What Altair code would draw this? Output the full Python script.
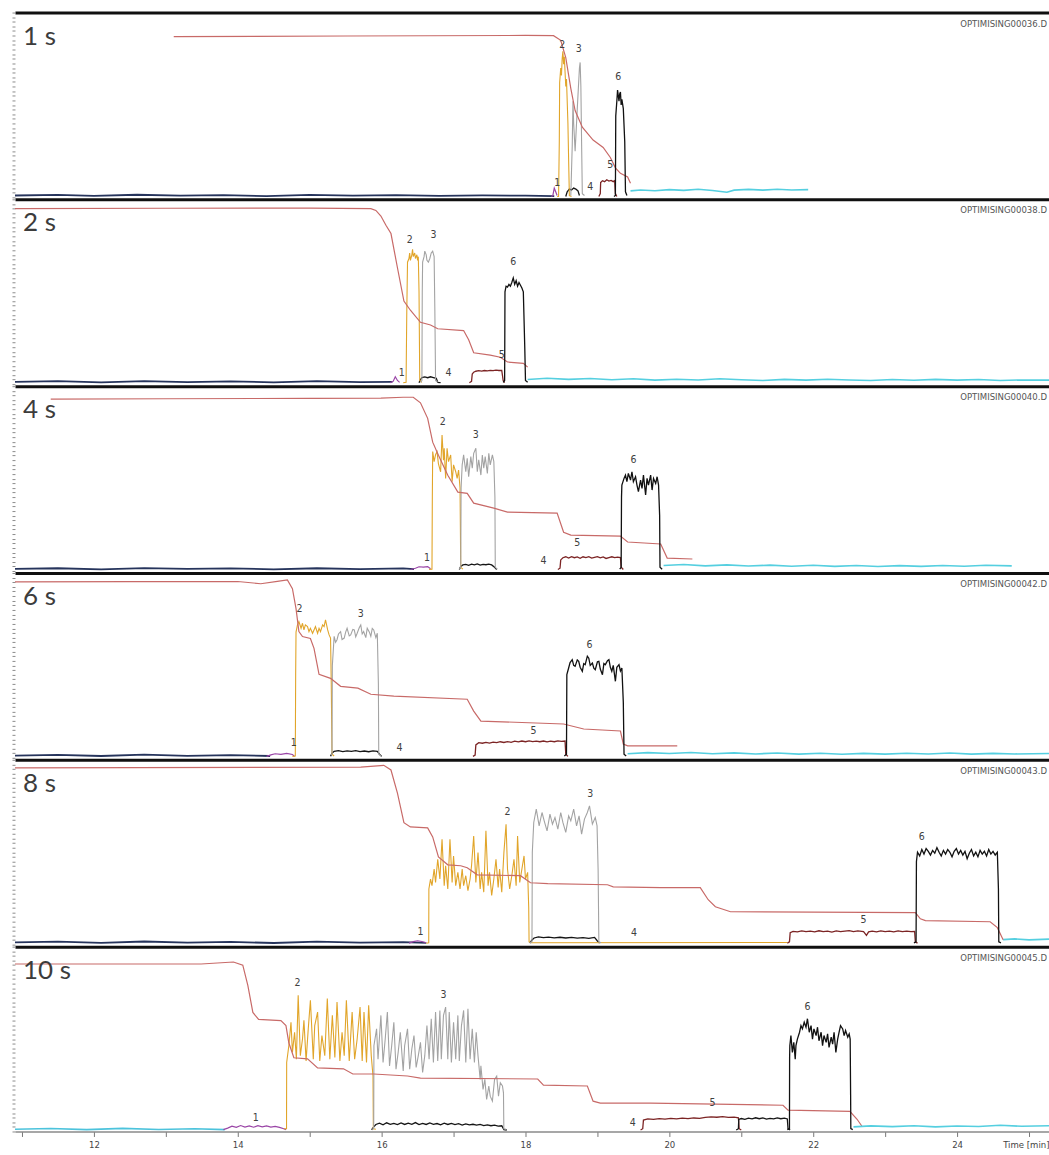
import altair as alt
import pandas as pd

# ---------------- layout constants ----------------
T_MIN, T_MAX = 10.903, 25.278
W, H = 1035, 185

PANEL_TAGS = ["1 s", "2 s", "4 s", "6 s", "8 s", "10 s"]
FILE_TAGS = ["OPTIMISING00036.D", "OPTIMISING00038.D", "OPTIMISING00040.D",
             "OPTIMISING00042.D", "OPTIMISING00043.D", "OPTIMISING00045.D"]
PEAK_NAMES = ["1", "2", "3", "4", "5", "6"]
X_TICKS = [11, 12, 13, 14, 15, 16, 17, 18, 19, 20, 21, 22, 23, 24, 25]
Y_TICKS = [i * 2.5 for i in range(41)]

# ---------------- panel 1 (1 s) ----------------
P1_BASE = [(10.903, 1.0), (11.5, 1.3), (12.0, 0.8), (12.6, 1.4), (13.2, 0.9), (13.8, 1.2), (14.4, 0.7),
           (15.0, 1.3), (15.6, 0.9), (16.2, 1.2), (16.8, 0.8), (17.4, 1.1), (18.0, 0.9), (18.4, 0.7)]
P1_RED = [(13.11, 87.0), (15.5, 87.3), (18.0, 87.6), (18.39, 87.5), (18.49, 85.0), (18.56, 75.6), (18.63, 59.0),
          (18.69, 47.0), (18.79, 38.0), (18.94, 31.0), (19.08, 27.0), (19.18, 21.6), (19.25, 16.0), (19.32, 13.0),
          (19.42, 11.0), (19.46, 7.6)]
P1_PURPLE = [(18.36, 0.5), (18.38, 1.0), (18.40, 5.0), (18.42, 3.0), (18.44, 1.0)]
P1_ORANGE = [(18.44, 0.5), (18.46, 0.5), (18.47, 30.0), (18.475, 62.0), (18.49, 70.0), (18.50, 66.0), (18.51, 75.0),
             (18.52, 79.0), (18.53, 72.0), (18.54, 76.0), (18.55, 68.0), (18.56, 60.0), (18.57, 64.0), (18.58, 52.0),
             (18.59, 40.0), (18.60, 20.0), (18.61, 1.0), (18.64, 0.5)]
P1_GRAY = [(18.63, 1.0), (18.65, 28.0), (18.66, 52.0), (18.67, 40.0), (18.69, 25.0), (18.72, 48.0), (18.75, 70.0),
           (18.76, 73.0), (18.77, 60.0), (18.78, 30.0), (18.79, 2.0), (18.82, 1.0)]
P1_BLACKLOW = [(18.56, 0.5), (18.58, 3.0), (18.61, 4.5), (18.64, 4.0), (18.67, 5.0), (18.70, 4.5), (18.73, 3.5),
               (18.75, 1.0)]
P1_DARKRED = [(19.02, 0.5), (19.04, 2.0), (19.045, 8.0), (19.07, 9.0), (19.10, 8.5), (19.13, 9.5), (19.16, 8.8),
              (19.19, 9.2), (19.22, 8.5), (19.24, 9.0), (19.25, 2.0), (19.27, 0.5)]
P1_BLACK6 = [(19.23, 0.5), (19.25, 1.0), (19.255, 44.0), (19.27, 52.0), (19.28, 58.0), (19.29, 55.0), (19.30, 52.0),
             (19.31, 56.0), (19.32, 57.0), (19.33, 50.0), (19.34, 53.0), (19.36, 48.0), (19.38, 30.0), (19.39, 3.0),
             (19.41, 1.0)]
P1_CYAN = [(19.46, 3.5), (19.6, 4.0), (19.8, 3.6), (20.0, 4.2), (20.2, 3.8), (20.4, 4.4), (20.6, 3.7), (20.8, 2.8),
           (20.9, 3.9), (21.1, 4.3), (21.3, 3.9), (21.5, 4.4), (21.7, 4.0), (21.93, 4.2)]
P1_LABELS = [(18.44, 7.6), (18.51, 82.5), (18.74, 80.0), (18.90, 5.4), (19.18, 17.4), (19.29, 65.0)]

# ---------------- panel 2 (2 s) ----------------
P2_BASE = [(10.903, 1.3), (11.5, 1.6), (12.1, 1.0), (12.7, 1.7), (13.3, 1.1), (13.9, 1.5), (14.5, 1.0),
           (15.1, 1.6), (15.7, 1.1), (16.15, 1.3)]
P2_RED = [(10.903, 95.0), (13.0, 95.2), (15.0, 95.3), (15.85, 95.0), (15.92, 94.0), (15.99, 91.0), (16.06, 86.0),
          (16.13, 81.5), (16.22, 63.0), (16.31, 45.0), (16.40, 40.0), (16.54, 33.5), (16.68, 32.0), (16.78, 30.0),
          (17.14, 29.0), (17.21, 24.0), (17.28, 17.0), (17.51, 15.7), (17.65, 14.6), (17.75, 12.0), (17.97, 11.3),
          (18.03, 9.2)]
P2_PURPLE = [(16.12, 0.8), (16.16, 1.5), (16.19, 4.0), (16.22, 2.0), (16.25, 1.0)]
P2_ORANGE = [(16.30, 0.8), (16.34, 1.0), (16.35, 40.0), (16.36, 66.0), (16.38, 68.0), (16.39, 71.0), (16.40, 67.0),
             (16.42, 70.0), (16.43, 73.0), (16.44, 69.0), (16.46, 71.0), (16.47, 68.0), (16.49, 70.0), (16.50, 67.0),
             (16.51, 69.0), (16.52, 50.0), (16.53, 2.0), (16.56, 1.0)]
P2_GRAY = [(16.54, 1.0), (16.56, 2.0), (16.565, 50.0), (16.57, 66.0), (16.59, 69.0), (16.60, 72.0), (16.62, 70.0),
           (16.63, 67.0), (16.65, 66.0), (16.67, 68.0), (16.69, 71.0), (16.71, 72.0), (16.73, 69.0), (16.74, 40.0),
           (16.75, 2.0), (16.78, 1.0)]
P2_BLACKLOW = [(16.52, 0.8), (16.54, 2.5), (16.56, 3.6), (16.60, 3.9), (16.64, 3.5), (16.68, 4.0), (16.72, 3.6),
               (16.76, 3.2), (16.78, 1.0), (16.82, 0.8)]
P2_DARKRED = [(17.22, 0.8), (17.25, 1.5), (17.26, 5.5), (17.28, 6.5), (17.31, 7.0), (17.35, 7.3), (17.39, 7.1),
              (17.43, 7.4), (17.47, 7.2), (17.51, 7.5), (17.55, 7.3), (17.59, 7.6), (17.63, 7.4), (17.67, 7.5),
              (17.69, 2.0), (17.71, 0.8)]
P2_BLACK6 = [(17.69, 1.0), (17.71, 2.0), (17.715, 50.0), (17.73, 53.0), (17.75, 52.5), (17.77, 54.0), (17.79, 53.0),
             (17.81, 55.0), (17.83, 57.5), (17.85, 54.0), (17.87, 56.0), (17.89, 53.0), (17.91, 55.0), (17.93, 53.5),
             (17.95, 52.0), (17.97, 50.0), (17.99, 20.0), (18.00, 2.0), (18.03, 1.0)]
P2_CYAN = [(18.03, 2.5), (18.3, 3.2), (18.6, 2.6), (18.9, 3.1), (19.2, 2.4), (19.5, 2.9), (19.8, 2.2), (20.1, 2.7),
           (20.4, 2.3), (20.7, 2.9), (21.0, 2.4), (21.3, 2.0), (21.6, 2.6), (21.9, 2.2), (22.2, 2.7), (22.5, 2.3),
           (22.8, 2.0), (23.1, 2.5), (23.4, 2.1), (23.7, 2.6), (24.0, 2.2), (24.3, 2.5), (24.6, 2.0), (24.9, 2.3),
           (25.278, 2.2)]
P2_LABELS = [(16.28, 6.0), (16.39, 78.0), (16.72, 80.6), (16.93, 6.0), (17.67, 15.7), (17.83, 66.0)]

# ---------------- panel 3 (4 s) ----------------
P3_BASE = [(10.903, 1.2), (11.5, 1.5), (12.1, 0.9), (12.7, 1.6), (13.3, 1.1), (13.9, 1.4), (14.5, 0.9),
           (15.1, 1.5), (15.7, 1.0), (16.3, 1.4), (16.45, 1.0)]
P3_RED = [(11.40, 93.0), (13.0, 93.2), (15.0, 93.4), (15.99, 93.5), (16.30, 94.0), (16.44, 94.0), (16.54, 91.0),
          (16.64, 82.6), (16.71, 69.7), (16.79, 62.6), (16.92, 51.8), (17.06, 42.7), (17.19, 42.0), (17.28, 36.7),
          (17.56, 34.0), (17.75, 31.9), (18.44, 31.3), (18.53, 21.0), (18.63, 19.4), (19.32, 18.9), (19.42, 15.7),
          (19.88, 14.6), (19.97, 7.0), (20.32, 6.5)]
P3_PURPLE = [(16.40, 0.8), (16.47, 1.5), (16.52, 2.3), (16.58, 2.1), (16.64, 2.4), (16.68, 1.2)]
P3_ORANGE = [(16.66, 0.8), (16.70, 1.0), (16.705, 40.0), (16.71, 64.6), (16.73, 59.2), (16.75, 63.0), (16.77, 64.6),
             (16.79, 58.0), (16.82, 53.7), (16.84, 73.6), (16.86, 60.0), (16.87, 66.4), (16.89, 50.1), (16.91, 66.4),
             (16.93, 59.2), (16.96, 62.8), (16.98, 48.3), (17.00, 57.4), (17.03, 53.7), (17.05, 50.1), (17.07, 54.6),
             (17.09, 45.0), (17.10, 2.0), (17.13, 1.0)]
P3_GRAY = [(17.08, 1.0), (17.10, 2.0), (17.105, 45.0), (17.12, 57.4), (17.14, 62.8), (17.17, 53.7), (17.19, 61.0),
           (17.21, 51.0), (17.24, 61.9), (17.26, 55.6), (17.28, 63.7), (17.31, 66.4), (17.33, 53.7), (17.35, 60.1),
           (17.38, 51.9), (17.40, 62.8), (17.42, 55.6), (17.44, 61.9), (17.47, 52.8), (17.49, 63.7), (17.51, 57.4),
           (17.54, 62.8), (17.56, 59.2), (17.575, 40.0), (17.58, 2.0), (17.61, 1.0)]
P3_BLACKLOW = [(17.08, 0.8), (17.10, 2.5), (17.13, 3.3), (17.17, 3.6), (17.21, 3.1), (17.25, 3.7), (17.29, 3.3),
               (17.33, 3.8), (17.37, 3.2), (17.41, 3.6), (17.45, 3.4), (17.49, 3.7), (17.53, 3.3), (17.57, 2.0),
               (17.60, 0.8)]
P3_DARKRED = [(18.45, 0.8), (18.48, 1.5), (18.49, 6.0), (18.52, 7.2), (18.56, 7.7), (18.60, 7.0), (18.64, 7.8),
              (18.68, 7.2), (18.72, 7.6), (18.76, 6.9), (18.80, 7.7), (18.84, 7.3), (18.88, 7.8), (18.92, 7.0),
              (18.96, 7.4), (19.00, 7.8), (19.04, 7.1), (19.08, 7.6), (19.12, 6.8), (19.16, 7.3), (19.20, 7.7),
              (19.24, 7.2), (19.28, 7.5), (19.32, 7.3), (19.33, 2.0), (19.36, 0.8)]
P3_BLACK6 = [(19.31, 1.0), (19.33, 2.0), (19.335, 40.0), (19.34, 46.5), (19.37, 50.1), (19.39, 51.9), (19.41, 48.3),
             (19.43, 52.8), (19.46, 49.2), (19.48, 53.7), (19.50, 48.3), (19.53, 51.0), (19.55, 46.5), (19.57, 42.9),
             (19.60, 49.2), (19.62, 44.7), (19.64, 51.9), (19.67, 41.1), (19.69, 50.1), (19.71, 46.5), (19.74, 51.9),
             (19.76, 43.8), (19.78, 50.1), (19.81, 47.4), (19.83, 51.0), (19.85, 46.5), (19.865, 30.0), (19.87, 2.0),
             (19.90, 1.0)]
P3_CYAN = [(19.92, 3.0), (20.2, 3.5), (20.5, 2.8), (20.8, 3.3), (21.1, 2.7), (21.4, 3.2), (21.7, 2.6), (22.0, 3.1),
           (22.3, 2.5), (22.6, 3.0), (22.9, 2.4), (23.2, 2.9), (23.5, 2.5), (23.8, 3.0), (24.1, 2.6), (24.4, 3.1),
           (24.76, 2.8)]
P3_LABELS = [(16.63, 7.0), (16.85, 80.6), (17.31, 73.6), (18.25, 5.4), (18.72, 15.1), (19.50, 60.0)]

# ---------------- panel 4 (6 s) ----------------
P4_BASE = [(10.903, 1.2), (11.5, 1.6), (12.1, 1.0), (12.7, 1.7), (13.3, 1.1), (13.9, 1.5), (14.45, 1.0)]
P4_RED = [(10.903, 95.2), (12.5, 95.3), (14.0, 95.4), (14.32, 94.2), (14.55, 95.5), (14.69, 96.3), (14.76, 91.5),
          (14.81, 80.7), (14.85, 68.3), (14.90, 65.6), (15.01, 64.6), (15.06, 59.2), (15.13, 45.2), (15.29, 43.0),
          (15.43, 38.7), (15.67, 37.7), (15.85, 34.4), (16.17, 33.4), (17.19, 31.7), (17.28, 25.3), (17.38, 19.9),
          (18.53, 18.3), (18.81, 15.6), (19.32, 14.5), (19.36, 7.5), (19.42, 6.5), (20.11, 6.5)]
P4_PURPLE = [(14.40, 0.8), (14.46, 1.6), (14.52, 2.2), (14.60, 1.9), (14.68, 2.4), (14.76, 1.8), (14.79, 0.8)]
P4_ORANGE = [(14.76, 0.8), (14.80, 1.0), (14.805, 45.0), (14.81, 68.0), (14.83, 71.9), (14.85, 73.7), (14.88, 70.1),
             (14.90, 72.8), (14.92, 69.2), (14.94, 71.9), (14.97, 71.0), (14.99, 68.3), (15.01, 70.1), (15.04, 67.4),
             (15.06, 69.2), (15.08, 71.0), (15.11, 67.4), (15.13, 70.1), (15.15, 68.3), (15.18, 71.9), (15.20, 71.0),
             (15.22, 74.6), (15.25, 69.2), (15.27, 66.5), (15.29, 64.8), (15.30, 40.0), (15.31, 2.0), (15.34, 1.0)]
P4_GRAY = [(15.30, 1.5), (15.31, 2.0), (15.315, 50.0), (15.34, 65.7), (15.36, 62.5), (15.38, 63.9), (15.40, 67.0),
           (15.43, 68.3), (15.45, 64.0), (15.48, 64.8), (15.50, 68.0), (15.52, 70.1), (15.55, 66.0), (15.57, 66.5),
           (15.60, 69.5), (15.62, 69.2), (15.64, 65.5), (15.66, 67.4), (15.69, 70.5), (15.71, 71.9), (15.73, 67.0),
           (15.75, 68.3), (15.78, 65.0), (15.80, 70.1), (15.83, 68.0), (15.85, 65.7), (15.87, 70.0), (15.89, 69.2),
           (15.92, 65.0), (15.94, 67.4), (15.955, 40.0), (15.96, 2.0), (15.99, 1.0)]
P4_BLACKLOW = [(15.29, 0.8), (15.31, 2.5), (15.34, 3.5), (15.40, 3.9), (15.46, 3.4), (15.52, 3.8), (15.58, 3.5),
               (15.64, 3.9), (15.70, 3.4), (15.76, 3.7), (15.82, 3.3), (15.88, 3.8), (15.94, 3.5), (15.97, 2.0),
               (16.00, 0.8)]
P4_DARKRED = [(17.27, 0.8), (17.30, 1.5), (17.31, 7.0), (17.35, 8.2), (17.40, 7.9), (17.45, 8.4), (17.50, 8.0),
              (17.55, 8.5), (17.60, 8.2), (17.65, 8.7), (17.70, 8.3), (17.75, 8.8), (17.80, 8.4), (17.85, 9.0),
              (17.90, 8.6), (17.95, 9.1), (18.00, 8.7), (18.05, 9.2), (18.10, 8.8), (18.15, 9.0), (18.20, 8.7),
              (18.25, 9.1), (18.30, 8.6), (18.35, 9.0), (18.40, 8.7), (18.45, 9.2), (18.50, 8.9), (18.55, 9.1),
              (18.56, 2.0), (18.59, 0.8)]
P4_BLACK6 = [(18.54, 1.0), (18.57, 2.0), (18.575, 45.0), (18.60, 48.6), (18.62, 51.5), (18.65, 53.1), (18.67, 50.0),
             (18.69, 49.5), (18.72, 53.0), (18.74, 52.2), (18.76, 49.0), (18.79, 46.8), (18.81, 51.0), (18.83, 50.4),
             (18.86, 55.0), (18.88, 53.9), (18.90, 50.0), (18.93, 51.3), (18.95, 48.5), (18.97, 47.7), (19.00, 52.0),
             (19.02, 52.2), (19.04, 48.0), (19.07, 45.0), (19.09, 51.0), (19.11, 50.4), (19.14, 52.5), (19.16, 53.1),
             (19.18, 49.0), (19.20, 46.8), (19.22, 50.0), (19.25, 41.4), (19.27, 49.0), (19.30, 50.4), (19.32, 47.0),
             (19.34, 48.6), (19.36, 30.0), (19.37, 2.0), (19.40, 1.0)]
P4_CYAN = [(19.42, 2.2), (19.7, 2.8), (20.0, 2.3), (20.3, 2.9), (20.6, 2.2), (20.9, 2.7), (21.2, 2.1), (21.5, 2.6),
           (21.8, 2.0), (22.1, 2.5), (22.4, 1.9), (22.7, 2.4), (23.0, 2.0), (23.3, 2.5), (23.6, 2.1), (23.9, 2.6),
           (24.2, 2.0), (24.5, 2.4), (24.8, 2.1), (25.278, 2.3)]
P4_LABELS = [(14.78, 8.0), (14.86, 80.7), (15.71, 78.0), (16.25, 5.4), (18.11, 14.5), (18.89, 61.3)]

# ---------------- panel 5 (8 s) ----------------
P5_BASE = [(10.903, 1.2), (11.5, 1.6), (12.1, 1.0), (12.7, 1.7), (13.3, 1.1), (13.9, 1.5), (14.5, 0.9),
           (15.1, 1.6), (15.7, 1.1), (16.3, 1.4), (16.62, 1.0)]
P5_RED = [(10.903, 95.6), (15.71, 96.0), (16.03, 97.0), (16.13, 94.5), (16.22, 82.0), (16.31, 66.0), (16.40, 63.7),
          (16.64, 63.2), (16.71, 58.3), (16.79, 47.5), (16.92, 43.2), (17.10, 42.7), (17.19, 41.6), (17.33, 37.8),
          (17.93, 37.3), (18.07, 33.5), (18.31, 33.0), (19.14, 32.4), (19.22, 31.3), (19.88, 30.8), (20.43, 30.8),
          (20.54, 24.3), (20.64, 20.5), (20.85, 17.8), (23.42, 17.3), (23.49, 14.0), (23.56, 13.0), (24.46, 12.4),
          (24.56, 9.2), (24.64, 2.7)]
P5_PURPLE = [(16.38, 0.8), (16.44, 1.6), (16.50, 2.1), (16.56, 1.7), (16.62, 1.0)]
P5_ORANGE = [(16.62, 0.8), (16.655, 1.0), (16.657, 30.1), (16.68, 35.5), (16.70, 31.9), (16.73, 40.9), (16.75, 33.7),
             (16.78, 46.2), (16.81, 35.5), (16.84, 57.0), (16.87, 31.9), (16.89, 42.7), (16.92, 30.1), (16.95, 57.0),
             (16.98, 33.7), (17.00, 48.0), (17.03, 31.9), (17.06, 39.1), (17.09, 30.1), (17.12, 40.9), (17.14, 31.9),
             (17.17, 37.3), (17.20, 29.2), (17.23, 35.5), (17.25, 42.7), (17.28, 58.8), (17.31, 33.7), (17.34, 49.8),
             (17.37, 30.1), (17.39, 39.1), (17.42, 28.4), (17.45, 61.6), (17.48, 31.9), (17.50, 39.1), (17.53, 26.6),
             (17.56, 35.5), (17.59, 46.2), (17.62, 31.0), (17.64, 40.9), (17.67, 28.4), (17.70, 49.8), (17.73, 65.1),
             (17.75, 40.9), (17.78, 30.1), (17.81, 37.3), (17.84, 46.2), (17.87, 31.9), (17.89, 58.8), (17.92, 33.7),
             (17.95, 40.9), (17.98, 48.0), (18.00, 35.5), (18.03, 39.1), (18.045, 20.0), (18.05, 1.5), (18.08, 1.0),
             (21.64, 1.2)]
P5_GRAY = [(18.06, 1.0), (18.09, 1.5), (18.095, 50.0), (18.115, 66.1), (18.15, 73.3), (18.19, 64.3), (18.23, 71.5),
           (18.26, 67.0), (18.30, 61.6), (18.34, 70.6), (18.375, 65.2), (18.41, 68.8), (18.45, 62.5), (18.49, 71.5),
           (18.52, 66.1), (18.56, 60.7), (18.60, 69.7), (18.63, 67.0), (18.67, 73.3), (18.71, 64.3), (18.745, 69.7),
           (18.78, 59.8), (18.82, 67.9), (18.86, 71.5), (18.89, 75.1), (18.93, 65.2), (18.97, 68.8), (18.995, 64.3),
           (19.01, 40.0), (19.02, 1.5), (19.05, 1.0)]
P5_BLACKLOW = [(18.06, 0.8), (18.09, 2.5), (18.12, 3.6), (18.18, 4.2), (18.25, 3.8), (18.32, 4.1), (18.40, 3.7),
               (18.48, 4.0), (18.56, 3.6), (18.64, 3.9), (18.72, 3.5), (18.80, 3.8), (18.88, 3.4), (18.96, 3.9),
               (19.00, 2.0), (19.03, 0.8)]
P5_DARKRED = [(21.64, 0.8), (21.67, 1.5), (21.68, 6.5), (21.72, 7.2), (21.78, 6.9), (21.84, 7.4), (21.90, 7.0),
              (21.96, 7.3), (22.02, 6.9), (22.08, 7.5), (22.14, 7.1), (22.20, 7.3), (22.26, 6.8), (22.32, 7.4),
              (22.38, 7.0), (22.44, 7.3), (22.50, 7.6), (22.56, 7.1), (22.62, 7.4), (22.70, 7.0), (22.74, 5.0),
              (22.77, 6.9), (22.82, 7.3), (22.88, 6.9), (22.94, 7.4), (23.00, 7.0), (23.06, 7.3), (23.12, 6.9),
              (23.18, 7.4), (23.24, 7.1), (23.30, 7.3), (23.36, 7.0), (23.41, 7.2), (23.42, 1.5), (23.45, 0.8)]
P5_BLACK6 = [(23.40, 1.0), (23.43, 1.5), (23.435, 45.0), (23.45, 50.0), (23.48, 48.0), (23.51, 51.5), (23.54, 49.0),
             (23.57, 52.0), (23.60, 50.5), (23.63, 48.5), (23.66, 51.0), (23.69, 49.5), (23.72, 52.5), (23.75, 50.0),
             (23.78, 48.0), (23.81, 51.0), (23.84, 49.0), (23.87, 51.5), (23.90, 50.0), (23.93, 47.5), (23.96, 50.5),
             (23.99, 52.0), (24.02, 49.0), (24.05, 51.0), (24.08, 48.5), (24.11, 50.5), (24.14, 46.5), (24.17, 49.5),
             (24.20, 51.5), (24.23, 48.0), (24.26, 50.0), (24.29, 47.5), (24.32, 51.0), (24.35, 49.0), (24.38, 50.5),
             (24.41, 48.0), (24.44, 51.5), (24.47, 49.0), (24.50, 50.5), (24.53, 48.5), (24.56, 50.0), (24.575, 30.0),
             (24.58, 1.5), (24.61, 1.0)]
P5_CYAN = [(24.64, 2.7), (24.8, 3.1), (25.0, 2.6), (25.278, 3.0)]
P5_LABELS = [(16.54, 7.0), (17.75, 71.7), (18.90, 81.5), (19.51, 6.5), (22.70, 13.6), (23.51, 58.0)]

# ---------------- panel 6 (10 s) ----------------
P6_CYANL = [(10.903, 1.2), (11.4, 1.6), (11.9, 1.0), (12.4, 1.7), (12.9, 1.1), (13.4, 1.5), (13.82, 1.0)]
P6_RED = [(10.903, 90.6), (13.49, 90.6), (13.94, 91.7), (14.07, 90.0), (14.14, 79.0), (14.21, 64.4), (14.29, 60.6),
          (14.60, 60.0), (14.67, 57.3), (14.71, 48.0), (14.78, 39.9), (14.97, 39.3), (15.11, 34.4), (15.47, 33.9),
          (15.60, 31.1), (15.89, 31.1), (16.36, 30.0), (16.54, 28.9), (18.17, 28.4), (18.25, 25.1), (18.86, 24.6),
          (18.94, 16.4), (19.04, 15.3), (19.74, 15.3), (21.58, 14.2), (21.65, 11.5), (22.51, 10.9), (22.61, 6.6),
          (22.68, 2.7)]
P6_PURPLE = [(13.80, 1.0), (13.86, 1.8), (13.92, 2.9), (13.98, 2.2), (14.04, 3.2), (14.10, 2.4), (14.16, 3.0),
             (14.22, 2.3), (14.28, 3.1), (14.34, 2.5), (14.40, 3.0), (14.46, 2.4), (14.52, 2.8), (14.58, 2.2),
             (14.64, 1.5), (14.67, 1.0)]
P6_ORANGE = [(14.64, 1.5), (14.678, 1.5), (14.68, 37.3), (14.71, 46.4), (14.74, 59.1), (14.76, 42.8), (14.79, 53.7),
             (14.815, 39.1), (14.84, 73.7), (14.87, 41.0), (14.90, 50.0), (14.92, 60.1), (14.95, 38.2), (14.98, 55.5),
             (15.01, 71.0), (15.05, 39.1), (15.07, 57.3), (15.11, 64.6), (15.14, 38.2), (15.17, 51.9), (15.21, 41.0),
             (15.245, 71.9), (15.28, 39.1), (15.315, 62.8), (15.35, 40.0), (15.38, 70.1), (15.42, 38.2), (15.45, 53.7),
             (15.48, 41.0), (15.51, 71.0), (15.55, 38.2), (15.59, 64.6), (15.625, 39.1), (15.66, 50.0), (15.70, 67.3),
             (15.73, 38.2), (15.755, 64.6), (15.79, 37.3), (15.82, 68.3), (15.856, 41.0), (15.88, 30.0), (15.885, 1.5),
             (15.92, 1.2)]
P6_GRAY = [(15.86, 1.2), (15.89, 1.5), (15.893, 46.4), (15.93, 55.5), (15.95, 39.1), (15.99, 62.8), (16.02, 37.3),
           (16.05, 50.0), (16.08, 64.6), (16.11, 35.5), (16.14, 46.4), (16.17, 59.1), (16.20, 33.7), (16.23, 42.8),
           (16.26, 53.7), (16.30, 32.8), (16.32, 46.4), (16.36, 55.5), (16.39, 33.7), (16.42, 44.6), (16.45, 51.9),
           (16.48, 34.6), (16.51, 41.0), (16.54, 48.2), (16.57, 31.9), (16.60, 41.0), (16.63, 57.3), (16.66, 39.1),
           (16.69, 61.0), (16.72, 37.3), (16.75, 64.6), (16.78, 38.2), (16.81, 65.5), (16.83, 39.1), (16.86, 62.8),
           (16.89, 67.3), (16.92, 39.1), (16.94, 64.6), (16.97, 37.3), (17.00, 59.1), (17.03, 39.1), (17.06, 62.8),
           (17.08, 38.2), (17.11, 57.3), (17.14, 65.5), (17.17, 37.3), (17.20, 66.4), (17.23, 39.1), (17.26, 55.5),
           (17.29, 37.3), (17.315, 53.7), (17.34, 41.0), (17.37, 28.2), (17.38, 35.5), (17.41, 22.8), (17.435, 28.2),
           (17.46, 17.3), (17.49, 24.6), (17.51, 19.1), (17.54, 16.4), (17.57, 28.2), (17.60, 30.0), (17.625, 19.1),
           (17.65, 26.4), (17.68, 24.6), (17.694, 20.9), (17.699, 1.5), (17.73, 1.2)]
P6_BLACKLOW = [(15.86, 0.8), (15.89, 2.5), (15.92, 3.8), (15.97, 4.5), (16.02, 3.6), (16.07, 4.7), (16.12, 3.9),
               (16.17, 4.4), (16.22, 3.7), (16.27, 4.6), (16.32, 3.8), (16.37, 4.5), (16.42, 3.9), (16.47, 4.8),
               (16.52, 3.7), (16.57, 4.4), (16.62, 3.8), (16.67, 4.6), (16.72, 3.9), (16.77, 4.3), (16.82, 3.6),
               (16.87, 4.5), (16.92, 3.8), (16.97, 4.4), (17.02, 3.7), (17.07, 4.2), (17.12, 3.5), (17.17, 4.1),
               (17.22, 3.6), (17.27, 3.9), (17.32, 3.4), (17.37, 3.8), (17.42, 3.2), (17.47, 3.6), (17.52, 3.1),
               (17.57, 3.4), (17.62, 2.9), (17.67, 3.1), (17.70, 1.0), (17.74, 0.8)]
P6_DARKRED = [(19.60, 0.8), (19.63, 1.5), (19.64, 6.2), (19.70, 6.8), (19.78, 6.5), (19.86, 7.0), (19.94, 6.7),
              (20.02, 7.1), (20.10, 6.8), (20.18, 7.2), (20.26, 6.9), (20.34, 7.3), (20.42, 7.1), (20.50, 7.6),
              (20.58, 7.9), (20.66, 7.7), (20.74, 8.0), (20.82, 7.6), (20.90, 7.8), (20.96, 7.4), (20.97, 1.5),
              (21.00, 0.8)]
P6_BLACK5B = [(20.93, 0.8), (20.96, 1.5), (20.965, 6.5), (21.00, 7.0), (21.05, 6.6), (21.10, 7.2), (21.15, 6.8),
              (21.20, 7.4), (21.25, 6.9), (21.30, 7.3), (21.35, 6.7), (21.40, 7.1), (21.45, 6.8), (21.50, 7.3),
              (21.55, 6.9), (21.60, 7.2), (21.64, 6.8), (21.65, 1.5), (21.68, 0.8)]
P6_BLACK6 = [(21.64, 1.0), (21.67, 1.5), (21.672, 40.0), (21.675, 46.4), (21.69, 51.9), (21.71, 42.8), (21.73, 48.2),
             (21.75, 39.1), (21.76, 46.4), (21.78, 50.0), (21.81, 53.7), (21.83, 57.3), (21.85, 55.5), (21.875, 59.1),
             (21.90, 56.4), (21.92, 61.0), (21.945, 53.7), (21.97, 57.3), (21.99, 50.0), (22.01, 55.5), (22.04, 51.9),
             (22.06, 56.4), (22.08, 49.1), (22.11, 53.7), (22.13, 46.4), (22.15, 51.9), (22.18, 48.2), (22.20, 52.8),
             (22.22, 45.5), (22.25, 51.0), (22.27, 47.3), (22.29, 53.7), (22.315, 42.8), (22.34, 50.0), (22.36, 53.7),
             (22.38, 57.3), (22.41, 55.5), (22.43, 51.9), (22.45, 54.6), (22.48, 51.0), (22.50, 52.8), (22.514, 50.0),
             (22.52, 20.0), (22.523, 1.5), (22.55, 1.0)]
P6_CYAN = [(22.56, 2.5), (22.8, 3.0), (23.1, 2.6), (23.4, 3.1), (23.7, 2.5), (24.0, 3.0), (24.3, 2.7), (24.6, 3.4),
           (24.9, 2.8), (25.278, 3.1)]
P6_LABELS = [(14.25, 7.1), (14.83, 80.3), (16.86, 73.7), (19.49, 4.4), (20.60, 15.3), (21.92, 67.2)]

# ---------------- assembling tables ----------------
PANEL_TRACES = [
    {"base": P1_BASE, "red": P1_RED, "purple": P1_PURPLE, "orange": P1_ORANGE, "gray": P1_GRAY,
     "blacklow": P1_BLACKLOW, "darkred": P1_DARKRED, "black6": P1_BLACK6, "cyan": P1_CYAN},
    {"base": P2_BASE, "red": P2_RED, "purple": P2_PURPLE, "orange": P2_ORANGE, "gray": P2_GRAY,
     "blacklow": P2_BLACKLOW, "darkred": P2_DARKRED, "black6": P2_BLACK6, "cyan": P2_CYAN},
    {"base": P3_BASE, "red": P3_RED, "purple": P3_PURPLE, "orange": P3_ORANGE, "gray": P3_GRAY,
     "blacklow": P3_BLACKLOW, "darkred": P3_DARKRED, "black6": P3_BLACK6, "cyan": P3_CYAN},
    {"base": P4_BASE, "red": P4_RED, "purple": P4_PURPLE, "orange": P4_ORANGE, "gray": P4_GRAY,
     "blacklow": P4_BLACKLOW, "darkred": P4_DARKRED, "black6": P4_BLACK6, "cyan": P4_CYAN},
    {"base": P5_BASE, "red": P5_RED, "purple": P5_PURPLE, "orange": P5_ORANGE, "gray": P5_GRAY,
     "blacklow": P5_BLACKLOW, "darkred": P5_DARKRED, "black6": P5_BLACK6, "cyan": P5_CYAN},
    {"cyanl": P6_CYANL, "red": P6_RED, "purple": P6_PURPLE, "orange": P6_ORANGE, "gray": P6_GRAY,
     "blacklow": P6_BLACKLOW, "darkred": P6_DARKRED, "black5b": P6_BLACK5B, "black6": P6_BLACK6},
]
PANEL_LABELS = [P1_LABELS, P2_LABELS, P3_LABELS, P4_LABELS, P5_LABELS, P6_LABELS]

STYLE = {
    "base": ("#26345c", 1.8),
    "cyanl": ("#4cc3dc", 1.6),
    "cyan": ("#55cfe0", 1.6),
    "purple": ("#9a45a6", 1.2),
    "darkred": ("#7c2424", 1.3),
    "blacklow": ("#151515", 1.3),
    "black5b": ("#151515", 1.3),
    "orange": ("#e1a52a", 1.1),
    "gray": ("#a3a3a3", 1.1),
    "red": ("#c86a68", 1.2),
    "black6": ("#111111", 1.3),
}
DRAW_ORDER = ["base", "cyanl", "cyan", "purple", "darkred", "blacklow", "black5b", "orange", "gray", "red", "black6"]

FONT_SMALL = "Liberation Sans Narrow, DejaVu Sans Condensed, Liberation Sans, sans-serif"
FONT_TAG = "Lato, Open Sans, sans-serif"

TOP_AXIS = alt.Axis(orient="top", labels=False, ticks=False, title=None, grid=False, domain=True,
                    domainColor="#101010", domainWidth=3)
Y_AXIS = alt.Axis(values=Y_TICKS, labels=False, ticks=True, tickSize=3, tickColor="#8c8c8c", tickWidth=1,
                  domain=False, grid=False, title=None)
BOTTOM_AXIS = alt.Axis(orient="bottom", values=X_TICKS, labelExpr="datum.value % 2 == 0 ? datum.label : ''",
                       tickSize=5, tickColor="#777777", domainColor="#8a8a8a", domainWidth=1.5, grid=False,
                       labelFontSize=9.5, labelColor="#444444", labelFont=FONT_SMALL, labelPadding=3,
                       title="Time [min]", titleFontSize=9.5, titleFontWeight="normal", titleFont=FONT_SMALL,
                       titleColor="#444444", titleAnchor="end", titleAlign="right", titleX=W, titleY=16,
                       titleBaseline="alphabetic")


def trace_df(pts):
    return pd.DataFrame({"t": [p[0] for p in pts], "v": [p[1] for p in pts], "i": list(range(len(pts)))})


def x_enc(axis):
    return alt.X("t:Q", scale=alt.Scale(domain=[T_MIN, T_MAX], nice=False, zero=False), axis=axis)


def y_enc():
    return alt.Y("v:Q", scale=alt.Scale(domain=[0, 100], nice=False, zero=False), axis=Y_AXIS)


def make_panel(k, last=False):
    traces = PANEL_TRACES[k]
    layers = []
    for key in DRAW_ORDER:
        if key in traces:
            color, width = STYLE[key]
            layers.append(
                alt.Chart(trace_df(traces[key])).mark_line(color=color, strokeWidth=width, clip=True)
                .encode(x=x_enc(TOP_AXIS), y=y_enc(), order="i:Q")
            )
    labs = PANEL_LABELS[k]
    lab_df = pd.DataFrame({"t": [p[0] for p in labs], "v": [p[1] for p in labs], "s": PEAK_NAMES})
    layers.append(
        alt.Chart(lab_df).mark_text(fontSize=10.5, color="#404040", font=FONT_SMALL, baseline="middle")
        .encode(x=x_enc(TOP_AXIS), y=y_enc(), text="s:N")
    )
    layers.append(
        alt.Chart(pd.DataFrame({"s": [PANEL_TAGS[k]]}))
        .mark_text(align="left", baseline="alphabetic", fontSize=26, font=FONT_TAG, color="#3c3c3c")
        .encode(x=alt.value(8), y=alt.value(32), text="s:N")
    )
    layers.append(
        alt.Chart(pd.DataFrame({"s": [FILE_TAGS[k]]}))
        .mark_text(align="right", baseline="top", fontSize=9.5, font=FONT_SMALL, color="#555555")
        .encode(x=alt.value(W - 2), y=alt.value(6), text="s:N")
    )
    inner = alt.layer(*layers)
    if last:
        carrier = (alt.Chart(trace_df(P6_CYAN)).mark_line(color=STYLE["cyan"][0], strokeWidth=STYLE["cyan"][1],
                                                          clip=True)
                   .encode(x=x_enc(BOTTOM_AXIS), y=y_enc(), order="i:Q"))
        return alt.layer(inner, carrier).resolve_axis(x="independent").properties(width=W, height=H)
    return inner.properties(width=W, height=H)


panels = [make_panel(k, last=(k == 5)) for k in range(6)]

chart = (
    alt.vconcat(*panels, spacing=0)
    .properties(padding={"left": 11, "top": 11, "right": 0, "bottom": 0}, background="white")
    .configure_view(stroke=None)
)

chart.save("out.html", embed_options={"renderer": "svg", "actions": False})
